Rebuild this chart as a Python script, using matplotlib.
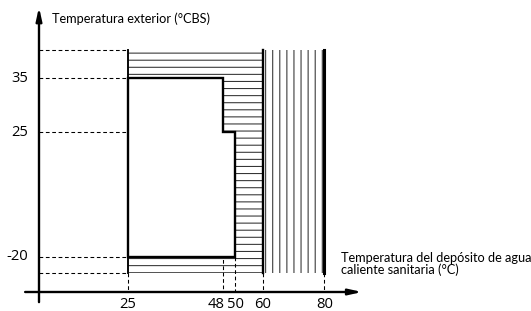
import numpy as np
import matplotlib
matplotlib.use("Agg")
import matplotlib.pyplot as plt
from matplotlib.patches import Polygon, Rectangle

plt.rcParams['font.family'] = ['Open Sans', 'DejaVu Sans']
plt.rcParams['hatch.linewidth'] = 0.9

# values of the diagram
x_ticks = [25, 48, 50, 60, 80]
x_tick_labels = ["25", "48", "50", "60", "80"]
y_ticks = [-20, 25, 35]
y_tick_labels = ["-20", "25", "35"]
y_top = 43        # upper limit of the working range (no label)
y_bottom = -25    # lower limit of the working range (no label)
x_min_zone = 25   # start of the hatched range
x_mid_zone = 60   # start of the vertical hatched range
x_max_zone = 80
# inner zone (heat pump only)
box_x = [25, 48, 48, 50, 50, 25]
box_y = [35, 35, 25, 25, -20, -20]

# the drawing is schematic: piecewise scale (value -> pixel)
x_anchor_val = [-9, 0, 25, 48, 50, 60, 80, 130]
x_anchor_pix = [0, 39, 128, 223, 235, 263, 324, 531]
y_anchor_val = [-36, -30, -25, -20, 25, 35, 43, 57]
y_anchor_pix = [0, 19, 38, 54, 179, 233, 261, 311]
x_origin = 0
y_origin = -30

dpi = 85
fig = plt.figure(figsize=(531 / dpi, 311 / dpi), dpi=dpi)
ax = fig.add_axes([0, 0, 1, 1])
ax.set_xscale('function', functions=(lambda v: np.interp(v, x_anchor_val, x_anchor_pix),
                                     lambda p: np.interp(p, x_anchor_pix, x_anchor_val)))
ax.set_yscale('function', functions=(lambda v: np.interp(v, y_anchor_val, y_anchor_pix),
                                     lambda p: np.interp(p, y_anchor_pix, y_anchor_val)))
ax.set_xlim(x_anchor_val[0], x_anchor_val[-1])
ax.set_ylim(y_anchor_val[0], y_anchor_val[-1])
ax.axis('off')

# hatched zones
ax.add_patch(Rectangle((x_min_zone, y_bottom), x_mid_zone - x_min_zone, y_top - y_bottom,
                       facecolor='none', edgecolor='#333333', hatch='--', lw=0, zorder=1))
ax.add_patch(Rectangle((x_mid_zone, y_bottom), x_max_zone - x_mid_zone, y_top - y_bottom,
                       facecolor='none', edgecolor='#333333', hatch='||', lw=0, zorder=1))
# inner zone
ax.add_patch(Polygon(list(zip(box_x, box_y)), closed=True, facecolor='white',
                     edgecolor='black', lw=2, zorder=3))

# zone borders
ax.plot([x_min_zone, x_min_zone], [y_bottom, y_top], color='black', lw=1.6, zorder=4)
ax.plot([x_mid_zone, x_mid_zone], [y_bottom, y_top], color='black', lw=2.0, zorder=4)
ax.plot([x_max_zone, x_max_zone], [y_bottom, y_top], color='black', lw=2.6, zorder=4)

# dashed guide lines
dash = dict(color='black', lw=0.9, linestyle=(0, (3.5, 2.5)), zorder=2)
for yv in [y_top, 35, -20, y_bottom]:
    ax.plot([x_origin, x_min_zone], [yv, yv], **dash)
ax.plot([x_origin, 48], [25, 25], **dash)
for xv, yv in [(25, y_bottom), (48, 25), (50, -20), (60, y_bottom), (80, y_bottom)]:
    ax.plot([xv, xv], [yv, y_origin], **dash)

# axes with arrows
arrow = dict(arrowstyle='-|>,head_length=0.9,head_width=0.2', lw=2, color='black',
             shrinkA=0, shrinkB=0, mutation_scale=10)
ax.annotate('', xy=(x_origin, 55), xytext=(x_origin, -33.2), arrowprops=arrow)
ax.annotate('', xy=(89.2, y_origin), xytext=(-3.2, y_origin), arrowprops=arrow)

# tick labels
fs_tick = 12.5
for v, lab in zip(y_ticks, y_tick_labels):
    ax.annotate(lab, xy=(x_origin, v), xytext=(-9, 0), textcoords='offset points',
                ha='right', va='center', fontsize=fs_tick)
x_offsets = [0, -6, 0, 0, 1]
for v, lab, dx in zip(x_ticks, x_tick_labels, x_offsets):
    ax.annotate(lab, xy=(v, y_origin), xytext=(dx, -10.5), textcoords='offset points',
                ha='center', va='center', fontsize=fs_tick)

fs_title = 10.8
fig.text(52 / 531, 1 - 19 / 311, "Temperatura exterior (°CBS)", ha='left', va='center',
         fontsize=fs_title, family='Lato')
fig.text(341 / 531, 1 - 264 / 311, "Temperatura del depósito de agua\ncaliente sanitaria (°C)",
         ha='left', va='center', fontsize=fs_title, family='Lato', linespacing=0.9)

fig.savefig("out.png", dpi=dpi)
